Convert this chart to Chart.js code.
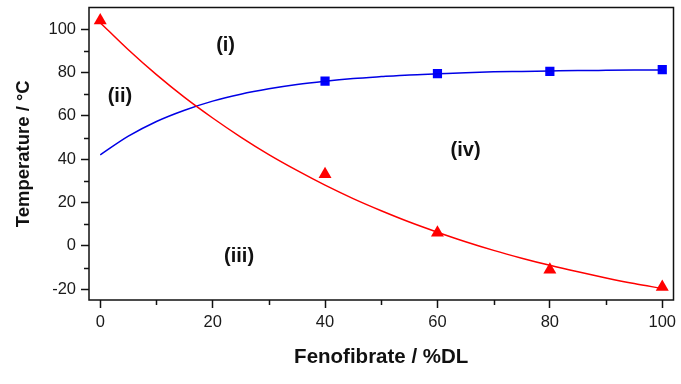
<!DOCTYPE html>
<html>
<head>
<meta charset="utf-8">
<script src="https://cdn.jsdelivr.net/npm/chart.js@4/dist/chart.umd.min.js"></script>
<style>
  html, body { margin: 0; padding: 0; background: #fff; }
  #wrap { width: 681px; height: 384px; }
</style>
</head>
<body>
<div id="wrap"><canvas id="phaseChart" width="681" height="384"></canvas></div>
<script>
// measured points
const loadings = [0, 40, 60, 80, 100];
const meltPoints = [104, 33, 6, -11, -19];          // red triangles
const bluePointsX = [40, 60, 80, 100];
const bluePoints = [76, 79.5, 80.5, 81.3];          // blue squares

// fitted curves, every 5 %DL
const curveX = [0, 5, 10, 15, 20, 25, 30, 35, 40, 45, 50, 55, 60, 65, 70, 75, 80, 85, 90, 95, 100];
const redCurve = [103, 90.5, 79, 68.5, 59, 50.2, 42.1, 34.8, 28, 21.8, 16.2, 11, 6.3, 1.9, -2.1, -5.7, -9, -12, -14.8, -17.4, -19.7];
const blueCurve = [42, 50.6, 57.4, 62.6, 66.8, 70, 72.5, 74.5, 76, 77.2, 78.1, 78.9, 79.4, 79.9, 80.3, 80.5, 80.7, 80.9, 81.0, 81.1, 81.2];

// region labels (data coords)
const regionLabels = ['(i)', '(ii)', '(iii)', '(iv)'];
const regionX = [22.3, 3.5, 24.7, 65];
const regionY = [92.5, 69, -5, 43.8];

const FONT = '"Liberation Sans", Arial, sans-serif';
const toXY = (xs, ys) => xs.map((x, i) => ({ x: x, y: ys[i] }));

const frameAndMinor = {
  id: 'frameAndMinor',
  afterDraw(chart) {
    const { ctx, chartArea: a, scales: { x, y } } = chart;
    ctx.save();
    ctx.strokeStyle = '#111';
    ctx.lineWidth = 1.5;
    ctx.strokeRect(a.left, a.top, a.right - a.left, a.bottom - a.top);
    // minor ticks
    ctx.beginPath();
    for (let v = 10; v <= 90; v += 20) {
      const px = Math.round(x.getPixelForValue(v)) + 0.5;
      ctx.moveTo(px, a.bottom);
      ctx.lineTo(px, a.bottom + 5);
    }
    for (let v = -10; v <= 90; v += 20) {
      const py = Math.round(y.getPixelForValue(v)) + 0.5;
      ctx.moveTo(a.left, py);
      ctx.lineTo(a.left - 5, py);
    }
    ctx.stroke();
    // region labels
    ctx.fillStyle = '#111';
    ctx.font = 'bold 20px ' + FONT;
    ctx.textAlign = 'center';
    ctx.textBaseline = 'middle';
    regionLabels.forEach((t, i) => {
      ctx.fillText(t, x.getPixelForValue(regionX[i]), y.getPixelForValue(regionY[i]));
    });
    ctx.restore();
  }
};

const ctx = document.getElementById('phaseChart').getContext('2d');
new Chart(ctx, {
  type: 'scatter',
  data: {
    datasets: [
      {
        label: 'fit red',
        data: toXY(curveX, redCurve),
        showLine: true,
        borderColor: '#ff0000',
        borderWidth: 1.5,
        pointRadius: 0,
        cubicInterpolationMode: 'monotone'
      },
      {
        label: 'fit blue',
        data: toXY(curveX, blueCurve),
        showLine: true,
        borderColor: '#0000e6',
        borderWidth: 1.5,
        pointRadius: 0,
        cubicInterpolationMode: 'monotone'
      },
      {
        label: 'Tm',
        data: toXY(loadings, meltPoints),
        pointStyle: 'triangle',
        pointRadius: 7.5,
        backgroundColor: '#ff0000',
        borderColor: '#ff0000',
        borderWidth: 0
      },
      {
        label: 'Tg',
        data: toXY(bluePointsX, bluePoints),
        pointStyle: 'rect',
        pointRadius: 6.5,
        backgroundColor: '#0000ff',
        borderColor: '#0000ff',
        borderWidth: 0
      }
    ]
  },
  options: {
    responsive: false,
    animation: false,
    layout: { padding: { top: 7, right: 6, left: 0, bottom: 0 } },
    plugins: { legend: { display: false }, tooltip: { enabled: false } },
    scales: {
      x: {
        type: 'linear',
        min: -2,
        max: 102,
        border: { display: false },
        grid: { drawOnChartArea: false, drawTicks: true, tickLength: 8, tickColor: '#111', tickWidth: 1.5 },
        ticks: { stepSize: 20, includeBounds: false, padding: 5, color: '#1a1a1a',
                 font: { family: FONT, size: 16.5 } },
        title: { display: true, text: 'Fenofibrate / %DL', color: '#111', padding: { top: 0, bottom: 14 },
                 font: { family: FONT, size: 20.5, weight: 'bold' } },
        afterFit(scale) { scale.height = 84; scale.paddingLeft = 0; scale.paddingRight = 0; }
      },
      y: {
        min: -25,
        max: 110,
        border: { display: false },
        grid: { drawOnChartArea: false, drawTicks: true, tickLength: 8, tickColor: '#111', tickWidth: 1.5 },
        ticks: { stepSize: 20, includeBounds: false, padding: 5, color: '#1a1a1a',
                 font: { family: FONT, size: 16.5 } },
        title: { display: true, text: 'Temperature / °C', color: '#111', padding: { top: 13, bottom: 0 },
                 font: { family: FONT, size: 18.5, weight: 'bold' } },
        afterFit(scale) { scale.width = 89; scale.paddingTop = 0; scale.paddingBottom = 0; }
      }
    }
  },
  plugins: [frameAndMinor]
});
</script>
</body>
</html>
